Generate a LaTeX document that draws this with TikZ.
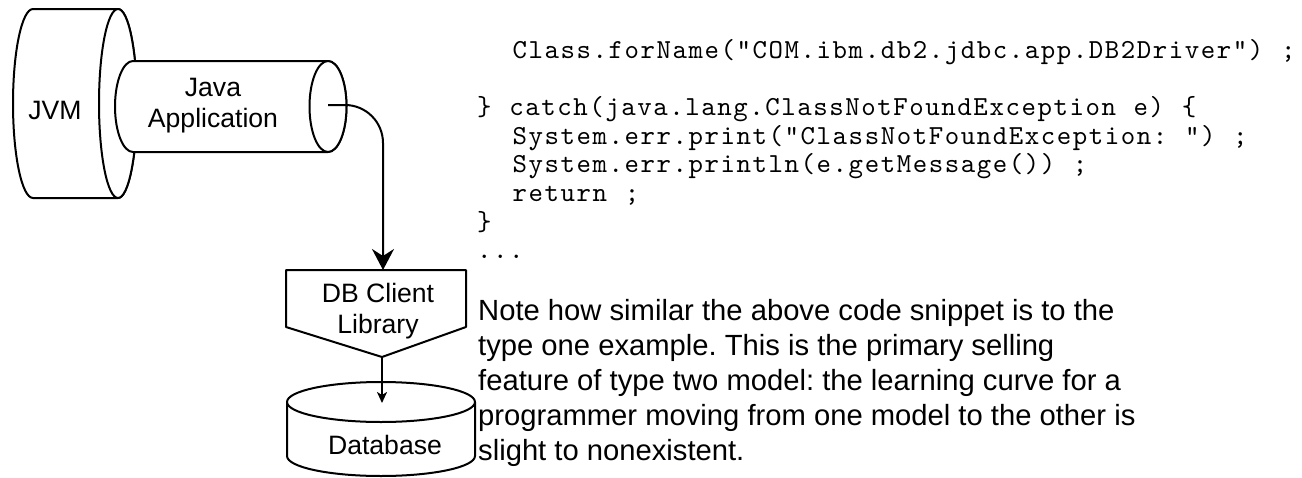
\documentclass[tikz,border=0pt]{standalone}
\usepackage{fontspec}
\setmainfont{Liberation Sans}
\newfontfamily\codefont{lmmono10-regular.otf}[LetterSpace=5.7, WordSpace=1.108]
\usetikzlibrary{arrows.meta}
\tikzset{
  shapeline/.style={draw=black, line width=2pt, fill=white, line join=round},
  lbl/.style={inner sep=0pt, align=center, font=\fontsize{26.6}{31}\selectfont},
  bigarrow/.style={draw=black, line width=2pt, -{Stealth[length=21pt,width=22pt,inset=7pt]}},
  smallarrow/.style={draw=black, line width=2pt, -{Stealth[length=11pt,width=10pt,inset=3pt]}},
  codetext/.style={anchor=base west, inner sep=0pt, font=\codefont\fontsize{27.5}{28.7}\selectfont\frenchspacing},
  notetext/.style={anchor=base west, inner sep=0pt, font=\fontsize{29.2}{35}\selectfont\frenchspacing},
}
\begin{document}
\begin{tikzpicture}[x=1pt,y=-1pt]
\useasboundingbox (0,0) rectangle (1302,477);
% JVM cylinder (horizontal)
\path[shapeline] (118,9) -- (33,9) arc[start angle=270,end angle=90,x radius=20,y radius=94.5]
  -- (118,198) arc[start angle=90,end angle=-90,x radius=19,y radius=94.5] -- cycle;
\draw[shapeline] (118,103.5) ellipse[x radius=19,y radius=94.5];
\node[lbl] (jvmlbl) at (55,110) {JVM};
% Java Application cylinder
\path[shapeline] (328,61) -- (133,61) arc[start angle=270,end angle=90,x radius=18,y radius=45.5]
  -- (328,152) arc[start angle=90,end angle=-90,x radius=18.5,y radius=45.5] -- cycle;
\draw[shapeline] (328,106.5) ellipse[x radius=18.5,y radius=45.5];
\node[lbl] (applbl) at (213,106) {Java\\Application};
% DB Client Library pentagon
\path[shapeline] (286,270) -- (466,270) -- (466,327) -- (382,357) -- (286,327) -- cycle;
\node[lbl] (dbclbl) at (378,311) {DB Client\\Library};
% Database cylinder
\path[shapeline] (287,402) -- (287,456) arc[start angle=180,end angle=0,x radius=94,y radius=20] -- (475,402) -- cycle;
\draw[shapeline] (381,402) ellipse[x radius=94,y radius=20];
\node[lbl] (dblbl) at (385,445) {Database};
% ports
\coordinate (appport) at (328,105);
\coordinate (dbctop) at (383,270);
\coordinate (dbcpoint) at (382,357);
\coordinate (dbtop) at (382,403);
\draw[bigarrow, rounded corners=38pt] (appport) -- (appport -| dbctop) -- (dbctop);
\draw[smallarrow] (dbcpoint) -- (dbtop);
% code
\node[codetext] (code) at (477,58) {\vtop{%
\hbox{\ \ Class.forName("COM.ibm.db2.jdbc.app.DB2Driver") ;}%
\hbox{}%
\hbox{\} catch(java.lang.ClassNotFoundException e) \{}%
\hbox{\ \ System.err.print("ClassNotFoundException: ") ;}%
\hbox{\ \ System.err.println(e.getMessage()) ;}%
\hbox{\ \ return ;}%
\hbox{\}}%
\hbox{...}}};
% note
\node[notetext] (note) at (478,320) {\vtop{%
\hbox{Note how similar the above code snippet is to the}%
\hbox{type one example. This is the primary selling}%
\hbox{feature of type two model: the learning curve for a}%
\hbox{programmer moving from one model to the other is}%
\hbox{slight to nonexistent.}}};
\end{tikzpicture}
\end{document}
